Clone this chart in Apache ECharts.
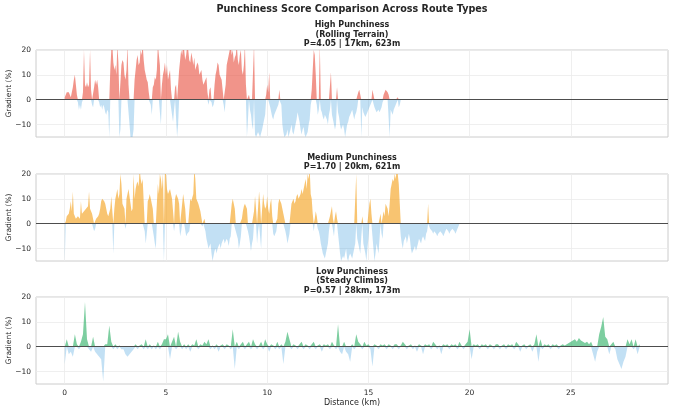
<!DOCTYPE html>
<html>
<head>
<meta charset="utf-8">
<script src="https://cdn.jsdelivr.net/npm/echarts@6/dist/echarts.min.js"></script>
<style>html,body{margin:0;padding:0;background:#fff;}#c{width:674px;height:412px;}</style>
</head>
<body>
<div id="c"></div>
<script>
// Sampling step along each route (km)
const highStepKm = 0.05;
const medStepKm = 0.05;
const lowStepKm = 0.1;

// Gradient (%) every 0.05 km — High Punchiness (Rolling Terrain), one row per km
const highPunch = [
  1, 2, 3, 2.5, 3, 2, 1, 3, 5, 8, 10, 6, 2, -1, -4, -2, -4, -1, 3, 20,
  6, 5, 7, 5, 6, 20, 4, -2, -3, 5, 8, 6, 8, 5, -1, -3, -2, -4, -2, -3,
  -5, -6, -4, -5, -15, 12, 20, 22, 15, 12, 14, 10, 22, 15, -15, -12, 14, 16, 15, 10,
  8, 12, 22, 6, -10, -15, -16, -15, -12, 8, 12, 16, 18, 14, 15, 20, 18, 22, 16, 12,
  10, 8, 7, 3, -1, -2, -6, 5, 6, 9, 8, 12, 22, 18, 14, -10, 6, 10, 12, 15,
  10, 14, 8, 10, 12, 4, -6, -9, -4, 5, 6, -15, -10, 12, 16, 20, 18, 22, 20, 16,
  18, 22, 20, 16, 15, 19, 17, 14, 17, 12, 12, 15, 14, 10, 10, 12, 8, 6, 6, 8,
  9, 3, -2, 4, 5, -1, -3, -2, 6, 10, 12, 15, 14, 10, 10, 8, 4, -2, -5, 6,
  14, 16, 18, 20, 22, 18, 20, 15, 17, 18, 22, 16, 14, 18, 20, 12, 10, 14, 22, 6,
  -15, -8, 2, -4, -6, -10, -12, 22, -14, -15, -15, -13, -14, -15, -15, -12, -10, -8, -6, 2,
  6, 3, 11, -3, -5, -7, -8, -6, -6, -4, -3, -2, 4, -1, -2, -10, -13, -15, -15, -14,
  -12, -15, -15, -12, -10, -13, -14, -12, -12, -8, -5, -7, -9, -12, -14, -12, -11, -14, -15, -14,
  -13, -10, -8, -2, 4, 12, 20, 18, 10, -2, -6, -4, 22, -4, -5, -7, -8, -6, -6, -8,
  -10, -6, -4, 11, -6, -8, -10, -12, -10, 5, -5, -7, -10, -12, -12, -10, -12, -15, -15, -10,
  -9, -7, -6, -5, -4, -6, -8, -6, -5, -3, 3, 4, 2, -15, -3, -5, -6, -7, -7, -5,
  -4, -3, -2, -1, 4, 2, -3, -4, -5, -5, -4, -5, -5, -3, -1, 2, 3, 4, 4, 3,
  2, -15, -4, -5, -6, -4, -3, -2, -2, 1, -3, -2, 0
];

// Gradient (%) every 0.05 km — Medium Punchiness, one row per km
const medPunch = [
  -15, 1, 3, 3, 4, 6, 9, 5, 13, 4, 3, 2, 2, 3, 3, 2, 9, 4, 4, 5,
  5, 6, 6, 7, 13, 6, 5, 4, 4, -3, -2, 2, 2, 3, 4, 6, 9, 10, 10, 9,
  8, 6, 4, 3, 3, 6, 11, 5, -12, 6, 10, 12, 14, 10, 12, 20, 16, 8, 7, 6,
  -2, 10, 12, 14, 14, 8, 5, 6, 20, 10, 14, 16, 17, 15, 22, 18, 16, 18, 18, -3,
  -8, -4, 9, 10, 12, 10, 8, 6, -5, -8, -10, 8, 16, 12, 20, 18, 14, 20, -15, 22,
  20, 14, 12, 13, 14, 12, 10, 10, -3, 10, 12, 11, 10, 8, -5, -3, 8, 12, 12, 6,
  -5, -4, -4, -3, 10, 9, 9, 12, 22, 18, 10, 9, 8, 8, 5, 5, -1, 1, 2, -3,
  -6, -8, -10, -9, -8, -12, -15, -13, -11, -10, -12, -10, -9, -8, -10, -8, -7, -6, -8, -7,
  -6, -7, -9, -6, -5, 8, 10, 8, 6, -3, -3, -6, -10, -8, -5, 2, 5, 7, 8, 7,
  6, -3, -5, -8, -11, -8, -6, 5, 11, 6, -8, -3, 13, 8, -10, 6, 12, 8, 6, 7,
  11, 6, 4, 8, 10, 3, -4, -5, -5, -3, 2, 8, 10, 9, 8, 6, 4, 2, -3, -5,
  -8, -6, -4, 4, 8, 9, 10, 8, 9, 11, 12, 10, 10, 12, 14, 12, 12, 16, 18, 14,
  20, 18, 22, 12, 10, 4, -3, 2, 5, 3, -2, -3, -5, -8, -10, -12, -12, -14, -14, -10,
  -8, -3, 3, 5, 7, 2, -5, 3, 5, 2, -4, -8, -12, -15, -15, -13, -14, -12, -10, -14,
  -15, -13, -12, -13, -14, -12, -10, -8, 20, -6, -8, -10, -12, -5, 3, -8, -10, -12, -15, -10,
  -6, 8, 10, 4, -5, -10, -15, -12, -8, -10, -12, -6, 4, -4, -6, 5, 3, 8, 8, 6,
  3, 8, 14, 16, 18, 17, 20, 18, 22, 20, 16, 8, -5, -8, -10, -7, -6, -5, -8, -6,
  -4, -6, -10, -12, -12, -10, -9, -11, -11, -8, -6, -7, -8, -6, -5, -6, -7, -4, -3, 8,
  -1, -2, -2, -3, -4, -3, -3, -4, -5, -4, -4, -3, -3, -4, -5, -4, -3, -2, -2, -3,
  -4, -3, -3, -2, -2, -3, -4, -3, -2, -1, 0
];

// Gradient (%) every 0.1 km — Low Punchiness (Steady Climbs), one row per km
const lowPunch = [
  -7, 3, -3, -2, -4, 5, 1, -1, 2, 5,
  18, 3, -1, -2, 4, -2, -3, -4, -5, -14,
  1, 1, 8.5, 2, -1, 1, -1, 0.5, -1, -1,
  -3, -4, -3, -2, -1, 1, -1, 0.5, 1, -1,
  3, -1, 1, -1, 0.5, -1, 2, -1, 1, 3,
  3, 5, -5, 2, 4, -1, 6, 2, -1, 1,
  -1, 1, -2, 1, 0.5, 3, -1, 1, 0.5, 2,
  1, 3, -1, 0.5, -1, 1, -2, 0.5, 1, -1,
  1, 0.5, -1, 7, -9, 2, -1, 1, 2, -1,
  1, 2, -1, 3, 1, -1, 0.5, 2, -1, 3,
  1, -2, 1, 0.5, -1, 2, -1, 1, -7, 2,
  6, 3, -1, 1, 0.5, -1, 1, 2, -1, 1,
  0.5, -1, 1, 2, -1, 0.5, 1, -2, 1, 0.5,
  1, -1, 2, 0.5, -1, 9, -2, -3, 2, -2,
  -3, -6, 1, -1, 5, 2, 1, -1, 2, 0.5,
  1, -1, -8, 1, 0.5, -1, 1, 0.5, 1, -1,
  1, 0.5, -1, 1, 1, -1, 0.5, 2, 1, -1,
  0.5, 1, -1, 0.5, -2, 1, 0.5, -3, 1, 0.5,
  1, -1, 2, 1, -1, 0.5, -3, 1, 0.5, 1,
  -1, 1, 0.5, 1, -1, 2, 0.5, -1, 1, 2,
  7, -5, 1, 0.5, 1, -1, 1, 0.5, 1, -1,
  1, 0.5, -1, 1, 1, -1, 0.5, 1, -1, 1,
  0.5, 1, -1, 2, 1, -2, 0.5, 1, -1, 0.5,
  1, -2, 1, 5, -6, 3, -1, 1, 0.5, 1,
  -1, 1, 0.5, 1, -1, 0.5, 1, 0.5, 1, 1.5,
  2, 2.5, 3, 2, 3.5, 2.5, 2, 1.5, 2, 1,
  2, -3, -6, -2, 5, 8, 12, 4, 3, -3,
  1, 2, -1, -5, -7, -9, -6, -4, 3, 1,
  3, -1, 3, -3, 1
];

const panelTitles = [
  'High Punchiness\n(Rolling Terrain)\nP=4.05 | 17km, 623m',
  'Medium Punchiness\nP=1.70 | 20km, 621m',
  'Low Punchiness\n(Steady Climbs)\nP=0.57 | 28km, 173m'
];
const posColors = ['rgba(231,76,60,0.6)', 'rgba(243,156,18,0.6)', 'rgba(39,174,96,0.6)'];
const negColor = 'rgba(52,152,219,0.3)';
const xTicks = [0, 5, 10, 15, 20, 25];
const yTicks = [-10, 0, 10, 20];

const profiles = [highPunch, medPunch, lowPunch];
const steps = [highStepKm, medStepKm, lowStepKm];
const gridTops = [50, 174, 297];
const gridH = 87;
const titleTops = [20.5, 153, 267];
const FONT = 'DejaVu Sans';

const chart = echarts.init(document.getElementById('c'), null, {renderer: 'canvas'});
const grids = [], xAxes = [], yAxes = [], series = [];
const titles = [{
  text: 'Punchiness Score Comparison Across Route Types',
  left: 352, top: 4, textAlign: 'center', padding: 0,
  textStyle: {fontFamily: FONT, fontSize: 9.6, fontWeight: 'bold', color: '#262626'}
}];
profiles.forEach((prof, p) => {
  grids.push({left: 36, right: 6, top: gridTops[p], height: gridH, show: true, containLabel: false,
    outerBoundsMode: 'none',
    borderColor: '#cccccc', borderWidth: 1, backgroundColor: 'transparent'});
  titles.push({
    text: panelTitles[p], left: 352, top: titleTops[p], textAlign: 'center', padding: 0,
    textStyle: {fontFamily: FONT, fontSize: 8, fontWeight: 'bold', color: '#262626', lineHeight: 9.4}
  });
  const last = p === 2;
  xAxes.push({
    type: 'value', gridIndex: p, min: -1.42, max: 29.8,
    axisLine: {show: false}, axisTick: {show: false, customValues: xTicks},
    splitLine: {show: true, lineStyle: {color: '#ebebeb', width: 0.8}},
    axisLabel: {show: last, customValues: xTicks, fontFamily: FONT, fontSize: 7.5, color: '#262626', margin: 5},
    name: last ? 'Distance (km)' : '', nameLocation: 'middle', nameGap: 15, nameMoveOverlap: false,
    nameTextStyle: {fontFamily: FONT, fontSize: 8, color: '#262626'}
  });
  yAxes.push({
    type: 'value', gridIndex: p, min: -15, max: 20,
    axisLine: {show: false}, axisTick: {show: false, customValues: yTicks},
    splitLine: {show: true, lineStyle: {color: '#ebebeb', width: 0.8}},
    axisLabel: {customValues: yTicks, fontFamily: FONT, fontSize: 7.5, color: '#262626', margin: 5,
      formatter: v => String(v).replace('-', '\u2212')},
    name: 'Gradient (%)', nameLocation: 'middle', nameGap: 23, nameMoveOverlap: false,
    nameTextStyle: {fontFamily: FONT, fontSize: 7.5, color: '#262626'}
  });
  const st = steps[p];
  const pos = prof.map((v, i) => [+(i * st).toFixed(3), Math.max(v, 0)]);
  const neg = prof.map((v, i) => [+(i * st).toFixed(3), Math.min(v, 0)]);
  series.push({
    type: 'line', xAxisIndex: p, yAxisIndex: p, data: neg, showSymbol: false, clip: true,
    lineStyle: {width: 0}, areaStyle: {color: negColor, opacity: 1}, silent: true, animation: false
  });
  series.push({
    type: 'line', xAxisIndex: p, yAxisIndex: p, data: pos, showSymbol: false, clip: true,
    lineStyle: {width: 0}, areaStyle: {color: posColors[p], opacity: 1}, silent: true, animation: false,
    markLine: {silent: true, symbol: 'none', label: {show: false}, animation: false,
      lineStyle: {color: '#4d4d4d', width: 1, type: 'solid'}, data: [{yAxis: 0}]}
  });
});

chart.setOption({
  backgroundColor: '#ffffff',
  animation: false,
  title: titles,
  grid: grids,
  xAxis: xAxes,
  yAxis: yAxes,
  series: series
});
</script>
</body>
</html>
